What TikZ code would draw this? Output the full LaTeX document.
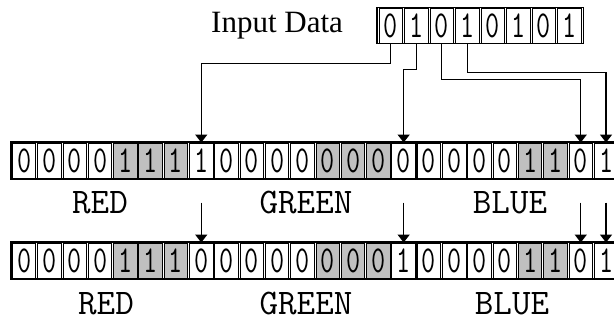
\documentclass[tikz,border=0pt]{standalone}
\usepackage{fontspec}
\usepackage{graphicx}
\usetikzlibrary{arrows.meta,calc}
\definecolor{cellgray}{RGB}{192,192,192}
\newfontfamily\captionfont{Liberation Serif}

\begin{document}
\begin{tikzpicture}[x=1pt,y=-1pt,
  cellbox/.style={draw=black,line width=0.9pt,inner sep=0pt,
    minimum width=23.5pt,minimum height=35pt,
    font=\fontsize{38}{38}\selectfont\ttfamily},
  lbl/.style={font=\fontsize{36}{36}\selectfont\ttfamily,inner sep=0pt,anchor=base},
  link/.style={line width=1.4pt,-{Triangle[width=12pt,length=8pt]}},
]
\clip (0,0) rectangle (614,322);

% input byte
\node[font=\fontsize{31}{31}\selectfont\captionfont,inner sep=0pt,anchor=base west] (inlabel) at (211,32) {Input Data};
\foreach \b [count=\i] in {0,1,0,1,0,1,0,1}{
  \node[cellbox] (in\i) at ({378+(\i-0.5)*25.5},25.5) {\scalebox{0.72}[1]{\b}};
}
\draw[line width=1.4pt] (376.8,7.5) rectangle (583.2,43.5);

% the two 24-bit pixel words
\foreach \r/\yc/\bits in {1/160.5/{0/0,0/0,0/0,0/0,1/1,1/1,1/1,1/0,0/0,0/0,0/0,0/0,0/1,0/1,0/1,0/0,0/0,0/0,0/0,0/0,1/1,1/1,0/0,1/0},
                          2/260.5/{0/0,0/0,0/0,0/0,1/1,1/1,1/1,0/0,0/0,0/0,0/0,0/0,0/1,0/1,0/1,1/0,0/0,0/0,0/0,0/0,1/1,1/1,0/0,1/0}}{
  \foreach \b/\s [count=\i] in \bits {
    \ifnum\s=1 \def\cfill{cellgray}\else\def\cfill{white}\fi
    \node[cellbox,fill=\cfill] (r\r c\i) at ({11.5+(\i-0.5)*25.3},\yc) {\scalebox{0.72}[1]{\b}};
  }
  \draw[line width=1.6pt] (11,\yc-18.7) rectangle (620,\yc+18.7);
  \draw[line width=2.6pt] (213.9,\yc-18.7) -- (213.9,\yc+18.7);
  \draw[line width=2.6pt] (416.3,\yc-18.7) -- (416.3,\yc+18.7);
}

% colour channel names
\node[lbl] (red1) at (100,213) {RED};
\node[lbl] (green1) at (306,213) {GREEN};
\node[lbl] (blue1) at (510,213) {BLUE};
\node[lbl] (red2) at (106,314) {RED};
\node[lbl] (green2) at (306,314) {GREEN};
\node[lbl] (blue2) at (512,314) {BLUE};

% data bits routed into the low bits of each channel
\draw[link] (in1.south) -- ++(0,20) -| (r1c8.north);
\draw[link] (in2.south) -- ++(0,26) -| (r1c16.north);
\draw[link] (in3.south) -- ++(0,36) -| (r1c23.north);
\draw[link] (in4.south) -- ++(0,29) -| (r1c24.north);

% result of the embedding
\foreach \c in {8,16,23,24}{
  \coordinate (s\c) at ($(r2c\c.north)+(0,-40)$);
  \draw[link] (s\c) -- (r2c\c.north);
}
\end{tikzpicture}
\end{document}
